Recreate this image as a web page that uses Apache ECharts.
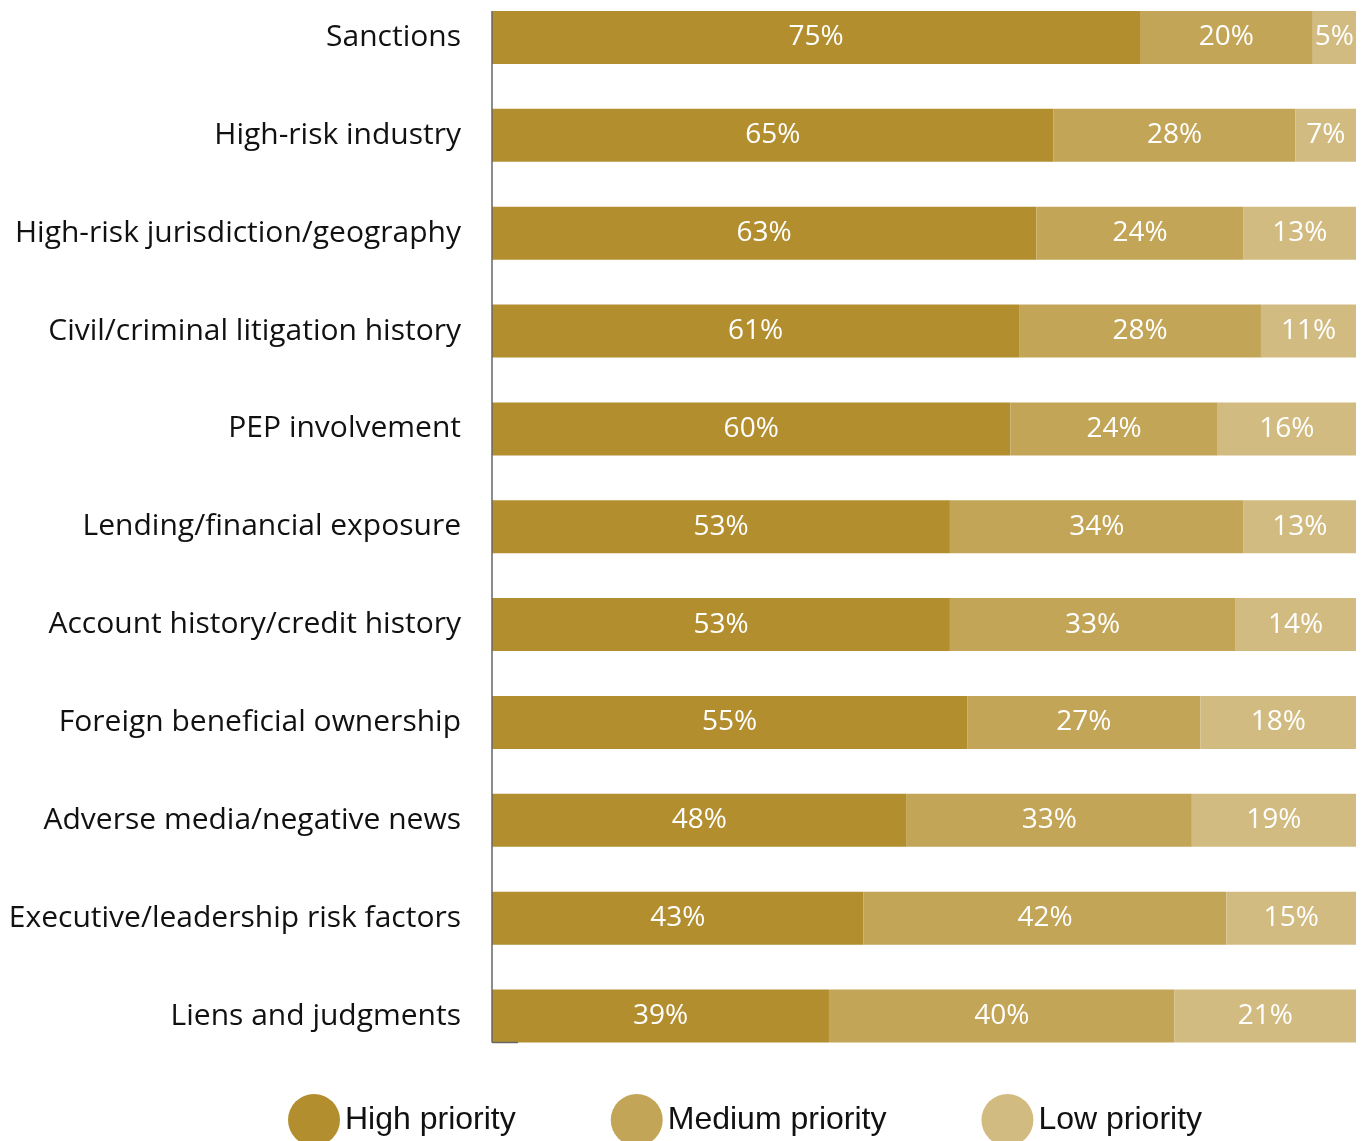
<!DOCTYPE html>
<html>
<head>
<meta charset="utf-8">
<script src="https://cdn.jsdelivr.net/npm/echarts@6/dist/echarts.min.js"></script>
<style>
  html, body { margin: 0; padding: 0; background: #fff; }
  #chart { width: 1364px; height: 1141px; }
</style>
</head>
<body>
<div id="chart"></div>
<script>
// Risk factors, listed top to bottom
const categories = [
  'Sanctions',
  'High-risk industry',
  'High-risk jurisdiction/geography',
  'Civil/criminal litigation history',
  'PEP involvement',
  'Lending/financial exposure',
  'Account history/credit history',
  'Foreign beneficial ownership',
  'Adverse media/negative news',
  'Executive/leadership risk factors',
  'Liens and judgments'
];
const highPriority   = [75, 65, 63, 61, 60, 53, 53, 55, 48, 43, 39];
const mediumPriority = [20, 28, 24, 28, 24, 34, 33, 27, 33, 42, 40];
const lowPriority    = [5, 7, 13, 11, 16, 13, 14, 18, 19, 15, 21];
const seriesNames = ['High priority', 'Medium priority', 'Low priority'];
const colors = ['#B28E2F', '#C3A557', '#D2BB80'];

const chart = echarts.init(document.getElementById('chart'));
const labelFont = '"Open Sans", "Noto Sans", sans-serif';
const BAR_H = 53;

function makeSeries(name, data, color) {
  return {
    name: name,
    type: 'bar',
    stack: 'total',
    barWidth: BAR_H,
    data: data,
    itemStyle: { color: color },
    label: {
      show: true,
      position: 'inside',
      formatter: '{c}%',
      color: '#fff',
      fontSize: 28,
      fontFamily: labelFont,
      padding: [6, 0, 0, 0]
    },
    emphasis: { disabled: true }
  };
}

chart.setOption({
  animation: false,
  // bars sit on the category ticks, first and last at the grid edges
  grid: { left: 492, right: 8, top: 37.5, height: 978.5, containLabel: false },
  legend: {
    bottom: -10,
    left: 283,
    icon: 'circle',
    itemWidth: 52,
    itemHeight: 52,
    itemGap: 95,
    textStyle: {
      fontSize: 32, color: '#111',
      fontFamily: '"Liberation Sans", Arial, sans-serif',
      padding: [8, 0, 0, 0]
    },
    data: seriesNames
  },
  xAxis: {
    type: 'value',
    min: 0,
    max: 100,
    show: false
  },
  yAxis: {
    type: 'category',
    inverse: true,
    boundaryGap: false,
    data: categories,
    axisLine: { show: false },
    axisTick: { show: false },
    splitLine: { show: false },
    axisLabel: {
      margin: 31,
      fontSize: 30,
      color: '#111',
      fontFamily: labelFont,
      padding: [4, 0, 0, 0]
    }
  },
  series: [
    makeSeries(seriesNames[0], highPriority, colors[0]),
    makeSeries(seriesNames[1], mediumPriority, colors[1]),
    makeSeries(seriesNames[2], lowPriority, colors[2])
  ]
});

// Vertical axis rule spanning the bars, with a short foot at the bottom
function drawAxisRule() {
  const half = BAR_H / 2;
  const top = chart.convertToPixel({ yAxisIndex: 0 }, categories[0]) - half;
  const bottom = chart.convertToPixel({ yAxisIndex: 0 }, categories[categories.length - 1]) + half;
  const x = chart.convertToPixel({ xAxisIndex: 0 }, 0);
  chart.setOption({
    graphic: [
      { type: 'line', z: 10, shape: { x1: x, y1: top, x2: x, y2: bottom }, style: { stroke: '#666', lineWidth: 1.5 } },
      { type: 'line', z: 10, shape: { x1: x, y1: bottom, x2: x + 26, y2: bottom }, style: { stroke: '#666', lineWidth: 1.5 } }
    ]
  });
}
drawAxisRule();
</script>
</body>
</html>
